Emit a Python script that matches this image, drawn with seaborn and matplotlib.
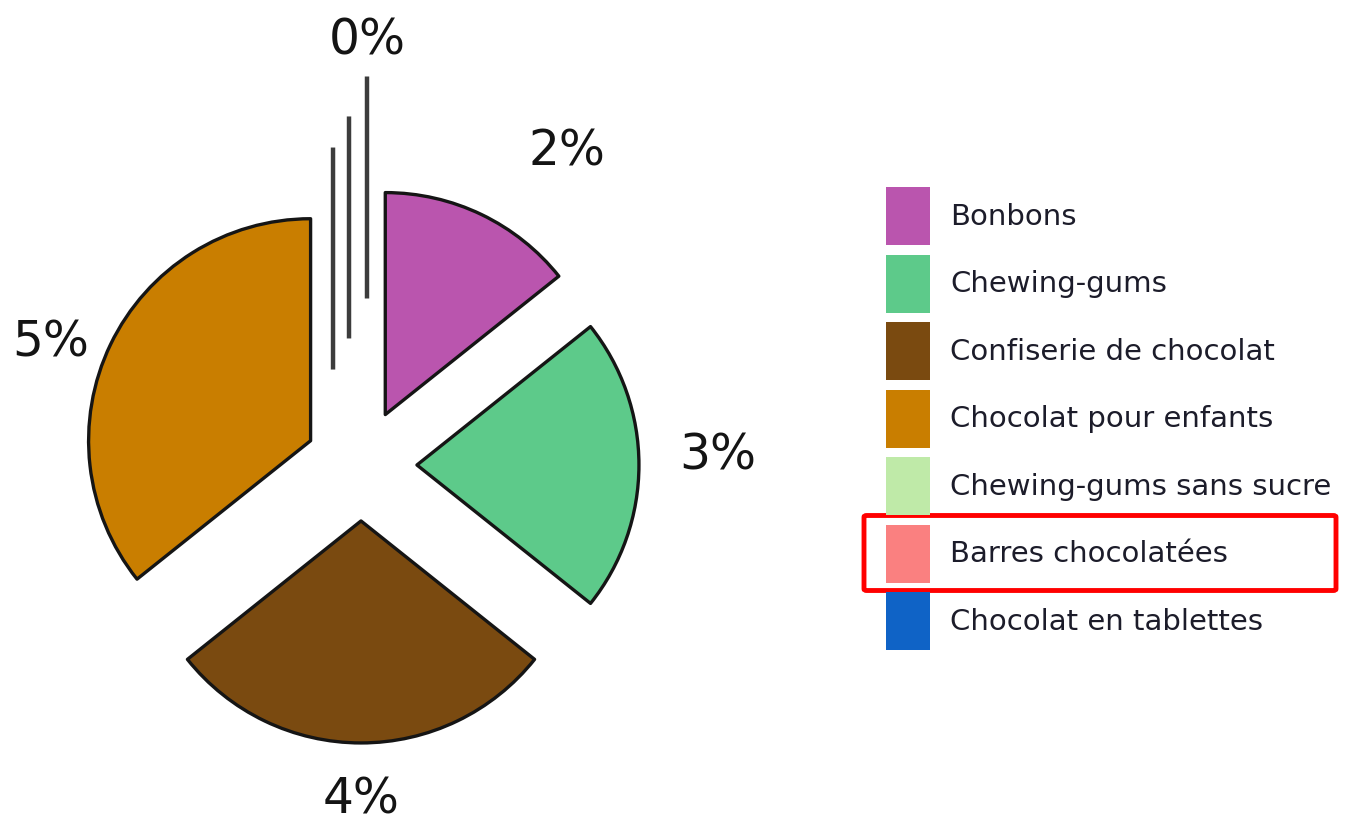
import numpy as np
import matplotlib
matplotlib.use("Agg")
import matplotlib.pyplot as plt
from matplotlib.patches import Patch, FancyBboxPatch
import seaborn as sns

# Confectionery categories and their growth (%)
categories = [
    "Bonbons",
    "Chewing-gums",
    "Confiserie de chocolat",
    "Chocolat pour enfants",
    "Chewing-gums sans sucre",
    "Barres chocolatées",
    "Chocolat en tablettes",
]
values = [2, 3, 4, 5, 0, 0, 0]
colors = ["#BA55AE", "#5DCA8A", "#7A4A10", "#C97E00", "#BFEAA8", "#FA8080", "#0F63C6"]
highlighted = "Barres chocolatées"

sns.set_theme(style="white")
plt.rcParams["font.family"] = ["DejaVu Sans"]

W, H = 1365, 826
fig = plt.figure(figsize=(W / 100, H / 100), dpi=100)
fig.patch.set_facecolor("white")

ax = fig.add_axes([0, 0, 1, 1])

# explode: real slices pulled out evenly, empty slices fanned upwards
explode = [0.252, 0.252, 0.252, 0.252, 0.43, 0.57, 0.75]
side_shift = [0, 0, 0, 0, -0.126, -0.054, 0.027]

wedges, _ = ax.pie(
    values,
    colors=colors,
    startangle=90,
    counterclock=False,
    explode=explode,
    radius=1.0,
    wedgeprops=dict(edgecolor="#151515", linewidth=2.4, joinstyle="round"),
)
for w, v, dx in zip(wedges, values, side_shift):
    cx, cy = w.center
    w.set_center((cx + dx, cy))
    if v == 0:
        w.set_edgecolor("#3c3c3c")
        w.set_linewidth(3.2)
        w.set_capstyle("butt")

# one data unit = pie radius in pixels; place the pie centre in the left part
R_PX = 222.0
CX, CY = 361.0, 465.0
ax.set_xlim(-CX / R_PX, (W - CX) / R_PX)
ax.set_ylim(-(H - CY) / R_PX, CY / R_PX)
ax.set_aspect("equal")
ax.axis("off")

# value labels placed relative to each slice (distance, angle offset in degrees)
label_place = [(1.44, -9.0), (1.357, 1.9), (1.257, 0.0), (1.254, 5.0), (1.162, 0.0)]
shown = [0, 1, 2, 3, 6]
for (dist, dang), idx in zip(label_place, shown):
    w = wedges[idx]
    mid = np.deg2rad((w.theta1 + w.theta2) / 2.0 + dang)
    cx, cy = w.center
    ax.text(cx + dist * np.cos(mid), cy + dist * np.sin(mid), f"{values[idx]}%",
            ha="center", va="center", fontsize=35, color="#141414")

# legend with tall square swatches
fs = 21
px = 0.72 / fs  # pixels -> legend font units
sw_h = 58 * px
leg = fig.legend(
    [Patch(facecolor=c, edgecolor="none") for c in colors], categories,
    loc="upper left",
    bbox_to_anchor=(886 / W, 1 - 187 / H),
    frameon=False,
    fontsize=fs,
    handlelength=44 * px,
    handleheight=(sw_h - 0.245) / 0.65,
    labelspacing=9.5 * px,
    handletextpad=20 * px,
    borderpad=0,
    borderaxespad=0,
)
for t in leg.get_texts():
    t.set_color("#1c1c2a")

# red highlight around one legend entry
fig.canvas.draw()
renderer = fig.canvas.get_renderer()
i = categories.index(highlighted)
hb = leg.legend_handles[i].get_window_extent(renderer)
x0, x1 = 864, 1336
y0 = hb.y0 - 8
y1 = hb.y1 + 9
box = FancyBboxPatch(
    (x0 / W, y0 / H), (x1 - x0) / W, (y1 - y0) / H,
    boxstyle="round,pad=0,rounding_size=0.002",
    transform=fig.transFigure, facecolor="none", edgecolor="#FF0000", linewidth=3.5,
)
fig.patches.append(box)

fig.savefig("out.png", dpi=100, facecolor="white")
